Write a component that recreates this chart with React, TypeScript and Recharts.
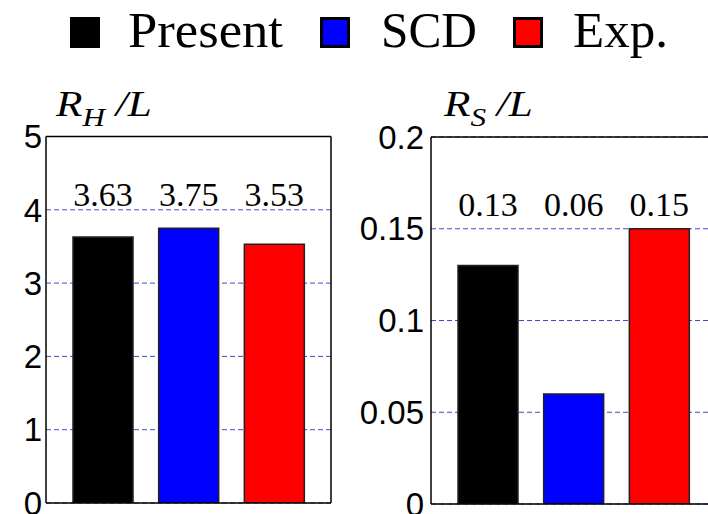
import { Bar, BarChart, CartesianGrid, Cell, LabelList, XAxis, YAxis } from "recharts";

const categories = ["Present", "SCD", "Exp."];
const colors = ["#000000", "#0000ff", "#ff0000"];
const rhValues = [3.63, 3.75, 3.53];
const rsValues = [0.13, 0.06, 0.15];
const rhTicks = [0, 1, 2, 3, 4, 5];
const rhMinorTicks = [0, 0.5, 1, 1.5, 2, 2.5, 3, 3.5, 4, 4.5, 5];
const rsTicks = [0, 0.05, 0.1, 0.15, 0.2];

const rows = categories.map((name, i) => ({
  name,
  rh: rhValues[i],
  rs: rsValues[i],
  color: colors[i],
}));

const SANS = "'Liberation Sans', Arial, sans-serif";
const SERIF = "'Liberation Serif', 'Times New Roman', serif";
const GRID = "#4646c8";

type PanelProps = {
  dataKey: "rh" | "rs";
  domain: [number, number];
  ticks: number[];
  minorTicks?: number[];
  left: number;
  width: number;
  yWidth: number;
  margin: { top: number; bottom: number; left: number; right: number };
  labelGap: number;
  labelLift: number;
  majorLen: number;
};

function Panel(p: PanelProps) {
  const common = {
    type: "number" as const,
    domain: p.domain,
    allowDataOverflow: true,
    stroke: "#000",
    strokeWidth: 1.5,
  };
  return (
    <div style={{ position: "absolute", left: p.left, top: 0 }}>
      <BarChart width={p.width} height={514} data={rows} margin={p.margin}>
        <CartesianGrid
          xAxisId="b"
          yAxisId="v"
          vertical={false}
          stroke={GRID}
          strokeDasharray="5 3"
        />
        <XAxis
          xAxisId="b"
          dataKey="name"
          mirror
          height={1}
          tick={false}
          tickLine={false}
          axisLine
          stroke="#000"
          strokeWidth={1.5}
          padding={{ left: 14, right: 14 }}
        />
        <XAxis
          xAxisId="t"
          orientation="top"
          dataKey="name"
          mirror
          height={1}
          tick={false}
          tickLine={false}
          axisLine
          stroke="#000"
          strokeWidth={1.5}
        />
        <YAxis
          yAxisId="v"
          {...common}
          ticks={p.ticks}
          interval={0}
          width={p.yWidth}
          axisLine
          tickLine={false}
          tickSize={p.labelGap}
          tickMargin={2}
          tick={{ fill: "#000", fontSize: 33, fontFamily: SANS }}
        />
        <YAxis
          yAxisId="lmaj"
          {...common}
          ticks={p.ticks}
          interval={0}
          mirror
          width={1}
          tick={false}
          tickSize={p.majorLen}
          axisLine={false}
          tickLine
        />
        <YAxis
          yAxisId="rmaj"
          orientation="right"
          {...common}
          ticks={p.ticks}
          interval={0}
          mirror
          width={1}
          tick={false}
          tickSize={p.majorLen}
          axisLine
          tickLine
        />
        {p.minorTicks && (
          <YAxis
            yAxisId="lmin"
            {...common}
            ticks={p.minorTicks}
            interval={0}
            mirror
            width={1}
            tick={false}
            tickSize={4}
            axisLine={false}
            tickLine
          />
        )}
        {p.minorTicks && (
          <YAxis
            yAxisId="rmin"
            orientation="right"
            {...common}
            ticks={p.minorTicks}
            interval={0}
            mirror
            width={1}
            tick={false}
            tickSize={4}
            axisLine={false}
            tickLine
          />
        )}
        <Bar
          xAxisId="b"
          yAxisId="v"
          dataKey={p.dataKey}
          barSize={60}
          stroke="#222"
          strokeWidth={1.5}
          isAnimationActive={false}
        >
          {rows.map((r) => (
            <Cell key={r.name} fill={r.color} />
          ))}
          <LabelList
            dataKey={p.dataKey}
            content={(lp: any) => (
              <text
                x={Number(lp.x) + Number(lp.width) / 2}
                y={Number(lp.y) + Number(lp.height) - p.labelLift}
                textAnchor="middle"
                fontFamily={SERIF}
                fontSize={34}
                fill="#000"
              >
                {lp.value}
              </text>
            )}
          />
        </Bar>
      </BarChart>
    </div>
  );
}

// legend / title layout (page px)
const legendSquareX = [70, 320, 513];
const legendTextX = [128, 381, 573];
const legendTextLen = [155, 96, 95];

function AxisTitle({ x, sub }: { x: number; sub: string }) {
  return (
    <g transform={`translate(${x},116) scale(1.2,1)`}>
      <text x={0} y={0} fontFamily={SERIF} fontStyle="italic" fontSize={36} fill="#000">
        R
        <tspan fontSize={26} dy={10}>
          {sub}
        </tspan>
        <tspan dy={-10}> /L</tspan>
      </text>
    </g>
  );
}

export default function App() {
  return (
    <div
      style={{
        position: "absolute",
        left: 0,
        top: 0,
        width: 708,
        height: 514,
        overflow: "hidden",
        background: "#fff",
      }}
    >
      <Panel
        dataKey="rh"
        domain={[0, 5]}
        ticks={rhTicks}
        minorTicks={rhMinorTicks}
        left={0}
        width={340}
        yWidth={40}
        margin={{ top: 136.5, bottom: 11, left: 6, right: 9 }}
        labelGap={2}
        labelLift={297}
        majorLen={7}
      />
      <Panel
        dataKey="rs"
        domain={[0, 0.2]}
        ticks={rsTicks}
        left={340}
        width={400}
        yWidth={85}
        margin={{ top: 137, bottom: 10, left: 6, right: 24 }}
        labelGap={5}
        labelLift={288}
        majorLen={8}
      />
      <svg
        width={708}
        height={130}
        style={{ position: "absolute", left: 0, top: 0, pointerEvents: "none" }}
      >
        {categories.map((c, i) => (
          <g key={c}>
            <rect
              x={legendSquareX[i] + 1.5}
              y={18.5}
              width={27}
              height={28}
              fill={colors[i]}
              stroke="#000"
              strokeWidth={3}
            />
            <text
              x={legendTextX[i]}
              y={47}
              fontFamily={SERIF}
              fontSize={50}
              fill="#000"
              textLength={legendTextLen[i]}
              lengthAdjust="spacingAndGlyphs"
            >
              {c}
            </text>
          </g>
        ))}
        <AxisTitle x={56} sub="H" />
        <AxisTitle x={444} sub="S" />
      </svg>
    </div>
  );
}
